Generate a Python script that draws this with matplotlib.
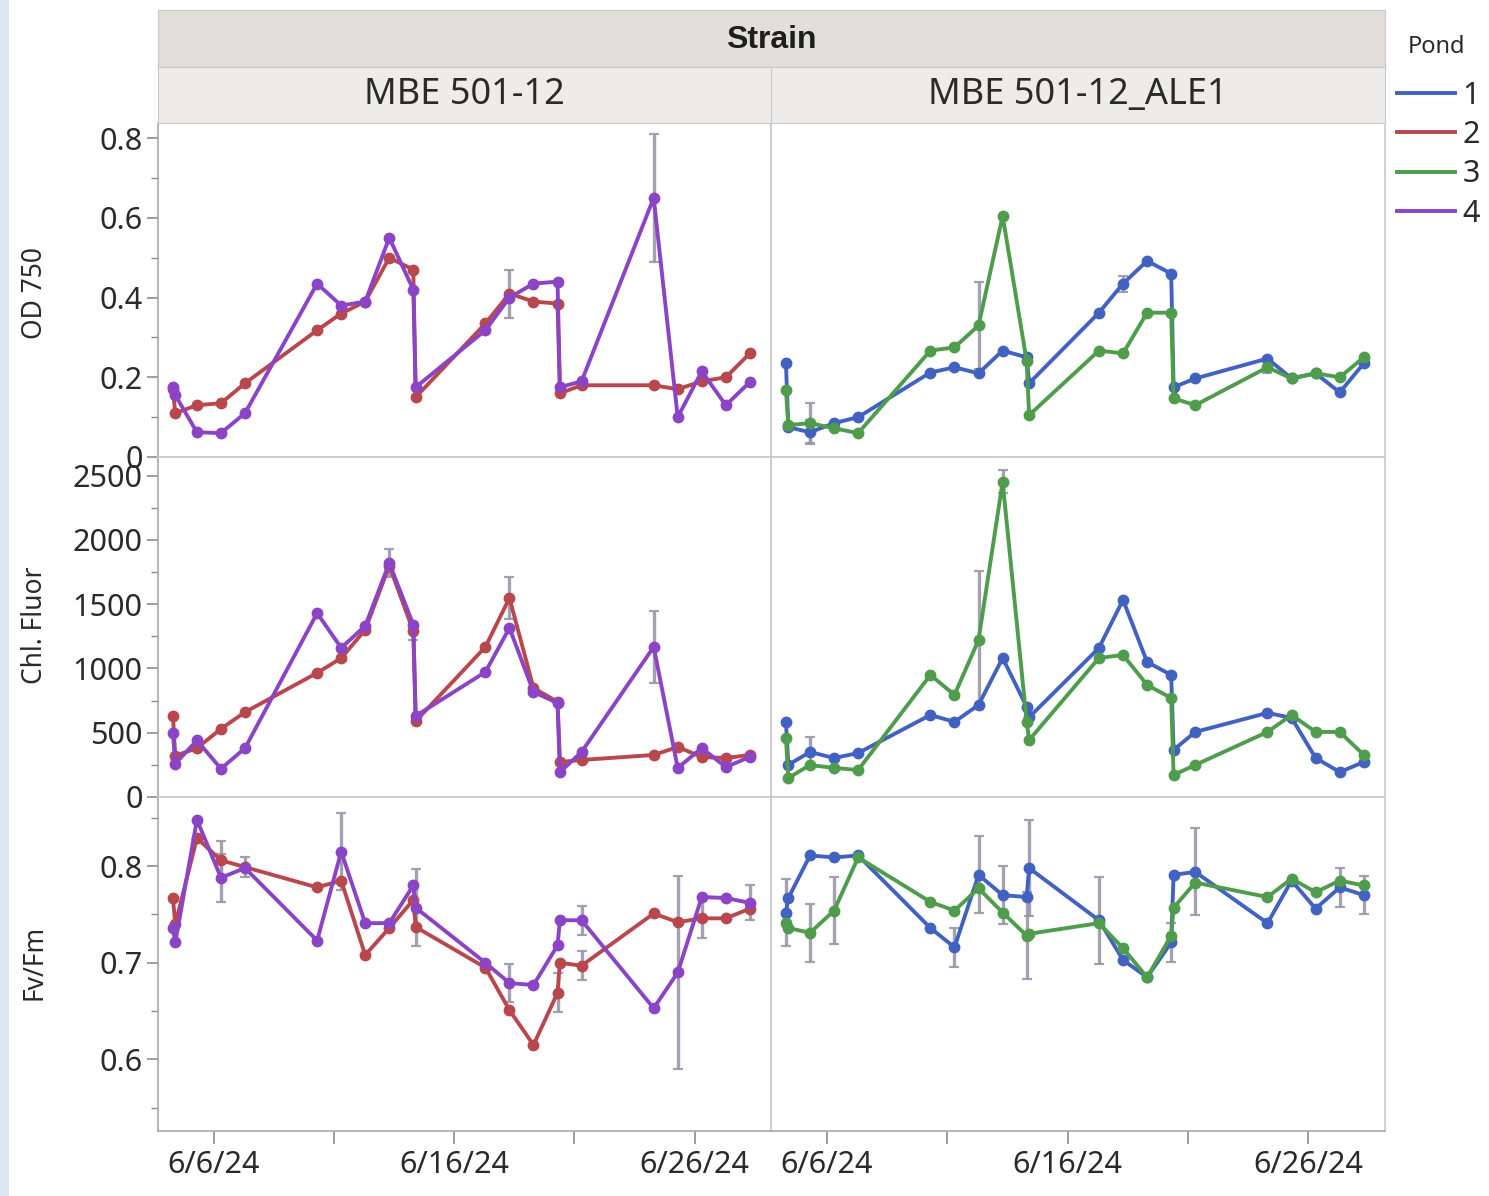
import matplotlib
matplotlib.use("Agg")
import matplotlib.pyplot as plt
from matplotlib.lines import Line2D
from matplotlib.patches import Rectangle
from matplotlib.ticker import FixedLocator, MultipleLocator, FuncFormatter
import numpy as np

plt.rcParams['font.family'] = ['Noto Sans', 'DejaVu Sans']

# ---------------- data ----------------
strains = ["MBE 501-12", "MBE 501-12_ALE1"]
ponds = ["1", "2", "3", "4"]
measures = ["OD 750", "Chl. Fluor", "Fv/Fm"]

# sampling time, day of June 2024 (two samples on 6/4, 6/14, 6/20)
sample_day = [4.3, 4.4, 5.3, 6.3, 7.3, 10.3, 11.3, 12.3, 13.3, 14.3, 14.4,
              17.3, 18.3, 19.3, 20.3, 20.4, 21.3, 24.3, 25.3, 26.3, 27.3, 28.3]

# OD 750
od_p2 = [0.17, 0.11, 0.13, 0.135, 0.185, 0.318, 0.36, 0.39, 0.50, 0.47, 0.15,
         0.335, 0.41, 0.39, 0.385, 0.16, 0.18, 0.18, 0.17, 0.19, 0.20, 0.26]
od_p4 = [0.175, 0.155, 0.062, 0.06, 0.11, 0.435, 0.38, 0.39, 0.55, 0.42, 0.175,
         0.318, 0.40, 0.435, 0.44, 0.175, 0.19, 0.65, 0.10, 0.215, 0.13, 0.188]
od_p1 = [0.235, 0.075, 0.062, 0.085, 0.10, 0.212, 0.225, 0.21, 0.267, 0.25, 0.185,
         0.362, 0.435, 0.492, 0.46, 0.175, 0.197, 0.247, 0.197, 0.21, 0.162, 0.235]
od_p3 = [0.168, 0.08, 0.085, 0.072, 0.06, 0.267, 0.275, 0.33, 0.605, 0.24, 0.105,
         0.267, 0.26, 0.362, 0.362, 0.147, 0.13, 0.225, 0.197, 0.21, 0.20, 0.25]
od_p2_err = [0, 0, 0, 0, 0, 0, 0, 0, 0, 0, 0, 0, 0.06, 0, 0, 0, 0, 0, 0, 0, 0, 0]
od_p4_err = [0, 0, 0, 0, 0, 0, 0, 0, 0, 0, 0, 0, 0, 0, 0, 0, 0, 0.16, 0, 0, 0, 0]
od_p1_err = [0, 0, 0.03, 0, 0, 0, 0, 0, 0, 0, 0, 0, 0.02, 0, 0, 0, 0, 0, 0, 0, 0, 0]
od_p3_err = [0, 0, 0.05, 0, 0, 0, 0, 0.11, 0, 0, 0, 0, 0, 0, 0, 0, 0, 0.015, 0, 0, 0, 0]

# Chl. Fluor
chl_p2 = [630, 320, 380, 530, 660, 965, 1080, 1300, 1800, 1290, 590,
          1167, 1548, 848, 740, 272, 288, 327, 389, 311, 303, 327]
chl_p4 = [500, 260, 440, 220, 380, 1430, 1160, 1330, 1820, 1340, 630,
          972, 1315, 817, 731, 194, 350, 1167, 226, 381, 233, 311]
chl_p1 = [584, 250, 350, 303, 342, 638, 584, 716, 1081, 700, 620,
          1159, 1533, 1050, 949, 366, 506, 654, 615, 303, 194, 272]
chl_p3 = [459, 148, 249, 226, 210, 949, 794, 1221, 2451, 584, 443,
          1081, 1105, 871, 770, 171, 249, 506, 638, 506, 506, 327]
chl_p2_err = [0, 0, 0, 0, 0, 0, 0, 0, 0, 70, 0, 0, 160, 0, 0, 0, 0, 0, 0, 0, 0, 0]
chl_p4_err = [0, 0, 0, 0, 0, 0, 0, 0, 110, 0, 0, 0, 0, 0, 0, 0, 0, 280, 0, 0, 0, 0]
chl_p1_err = [0, 0, 120, 0, 0, 0, 0, 0, 0, 0, 0, 0, 0, 0, 0, 0, 0, 0, 0, 0, 0, 0]
chl_p3_err = [0, 0, 0, 0, 0, 0, 0, 540, 90, 0, 0, 0, 0, 0, 0, 0, 0, 0, 0, 0, 0, 0]

# Fv/Fm
fv_p2 = [0.767, 0.74, 0.829, 0.806, 0.799, 0.778, 0.785, 0.708, 0.736, 0.765, 0.737,
         0.695, 0.651, 0.615, 0.669, 0.70, 0.697, 0.751, 0.742, 0.746, 0.746, 0.756]
fv_p4 = [0.736, 0.721, 0.848, 0.788, 0.798, 0.723, 0.815, 0.741, 0.741, 0.78, 0.757,
         0.70, 0.679, 0.677, 0.718, 0.744, 0.744, 0.653, 0.690, 0.768, 0.767, 0.762]
fv_p1 = [0.752, 0.767, 0.811, 0.809, 0.811, 0.736, 0.716, 0.791, 0.770, 0.768, 0.798,
         0.744, 0.703, 0.685, 0.721, 0.791, 0.794, 0.741, 0.785, 0.756, 0.778, 0.770]
fv_p3 = [0.741, 0.736, 0.731, 0.754, 0.809, 0.763, 0.754, 0.777, 0.752, 0.728, 0.73,
         0.741, 0.715, 0.685, 0.728, 0.757, 0.783, 0.768, 0.787, 0.773, 0.785, 0.780]
fv_p2_err = [0, 0, 0, 0.02, 0.01, 0, 0, 0, 0, 0, 0, 0, 0, 0, 0.02, 0, 0.015, 0, 0, 0.02, 0, 0]
fv_p4_err = [0, 0, 0, 0.025, 0, 0, 0.04, 0, 0, 0, 0.04, 0, 0.02, 0, 0, 0, 0.015, 0, 0.1, 0, 0, 0.018]
fv_p1_err = [0.035, 0, 0, 0, 0, 0, 0.02, 0.04, 0.03, 0, 0.05, 0.045, 0, 0, 0.02, 0, 0.045, 0, 0, 0, 0.02, 0.02]
fv_p3_err = [0, 0, 0.03, 0.035, 0, 0, 0, 0, 0, 0.045, 0, 0, 0, 0, 0, 0, 0, 0, 0, 0, 0, 0]

# which ponds belong to each strain
strain_ponds = {"MBE 501-12": ["2", "4"], "MBE 501-12_ALE1": ["1", "3"]}
series = {
    "OD 750": {"1": (od_p1, od_p1_err), "2": (od_p2, od_p2_err),
               "3": (od_p3, od_p3_err), "4": (od_p4, od_p4_err)},
    "Chl. Fluor": {"1": (chl_p1, chl_p1_err), "2": (chl_p2, chl_p2_err),
                   "3": (chl_p3, chl_p3_err), "4": (chl_p4, chl_p4_err)},
    "Fv/Fm": {"1": (fv_p1, fv_p1_err), "2": (fv_p2, fv_p2_err),
              "3": (fv_p3, fv_p3_err), "4": (fv_p4, fv_p4_err)},
}

x_major_days = [1, 6, 11, 16, 21, 26]
x_label_days = [6, 16, 26]

# ---------------- style ----------------
colors = {"1": "#4262C2", "2": "#B9484E", "3": "#4E9C4C", "4": "#8B44C6"}
txt_c = "#2A2A2A"
W, H = 1489, 1196
fig = plt.figure(figsize=(W / 100, H / 100), dpi=100)
fig.patch.set_facecolor("white")


def box(x0, y0, x1, y1):
    return [x0 / W, 1 - y1 / H, (x1 - x0) / W, (y1 - y0) / H]


# light blue strip at the left edge
fig.patches.append(Rectangle((0, 0), 9 / W, 1, transform=fig.transFigure,
                             facecolor="#DCE6F2", edgecolor="none", zorder=0))

col_x = [(158, 771), (771, 1385)]
row_y = [(123, 457), (457, 797), (797, 1131)]
ylims = {"OD 750": (0, 0.838), "Chl. Fluor": (0, 2644), "Fv/Fm": (0.526, 0.8715)}
yticks = {"OD 750": ([0, 0.2, 0.4, 0.6, 0.8], 0.1),
          "Chl. Fluor": ([0, 500, 1000, 1500, 2000, 2500], 250),
          "Fv/Fm": ([0.6, 0.7, 0.8], 0.05)}
yfmt = {"OD 750": lambda v, p: "0" if v == 0 else f"{v:.1f}",
        "Chl. Fluor": lambda v, p: f"{v:.0f}",
        "Fv/Fm": lambda v, p: f"{v:.1f}"}
ylabel_y = {"OD 750": 293, "Chl. Fluor": 625, "Fv/Fm": 962}

spine_c = "#C9C9C9"
for r, meas in enumerate(measures):
    for c, strain in enumerate(strains):
        x0, x1 = col_x[c]
        y0, y1 = row_y[r]
        ax = fig.add_axes(box(x0, y0, x1, y1))
        ax.set_facecolor("white")
        for p in strain_ponds[strain]:
            vals, err = series[meas][p]
            vals = np.array(vals, dtype=float)
            err = np.array(err, dtype=float)
            m = err > 0
            ax.errorbar(np.array(sample_day)[m], vals[m], yerr=err[m], fmt="none",
                        ecolor="#9A98A8", elinewidth=2.4, capsize=3.5, capthick=1.6,
                        alpha=0.9, zorder=2)
            ax.plot(sample_day, vals, color=colors[p], lw=2.8, marker="o",
                    ms=7.5, mec=colors[p], mfc=colors[p], zorder=3)
        ax.set_xlim(3.68, 29.18)
        ax.set_ylim(*ylims[meas])
        for s in ax.spines.values():
            s.set_color(spine_c)
            s.set_linewidth(1.2)
        ax.xaxis.set_major_locator(FixedLocator(x_major_days))
        ax.xaxis.set_major_formatter(FuncFormatter(
            lambda v, p: f"6/{int(round(v))}/24" if int(round(v)) in x_label_days else ""))
        major, minor = yticks[meas]
        ax.yaxis.set_major_locator(FixedLocator(major))
        ax.yaxis.set_minor_locator(MultipleLocator(minor))
        ax.yaxis.set_major_formatter(FuncFormatter(yfmt[meas]))
        ax.tick_params(axis="y", which="major", length=8, width=1.2, color="#8C8C8C",
                       labelsize=22, labelcolor=txt_c, pad=3)
        ax.tick_params(axis="y", which="minor", length=5, width=1.0, color="#8C8C8C")
        ax.tick_params(axis="x", which="major", length=9, width=1.2, color="#8C8C8C",
                       labelsize=22, labelcolor=txt_c, pad=5)
        if c == 1:
            ax.tick_params(axis="y", which="both", left=False, labelleft=False)
        else:
            ax.spines["left"].set_color("#A8A8A8")
        if r < 2:
            ax.tick_params(axis="x", which="both", bottom=False, labelbottom=False)
        else:
            ax.spines["bottom"].set_color("#A8A8A8")
        if c == 0:
            fig.text(35 / W, 1 - ylabel_y[meas] / H, meas, rotation=90, ha="center",
                     va="center", fontsize=19, color=txt_c)

# header bands
hb = fig.add_axes(box(158, 10, 1385, 67))
hb.set_facecolor("#E1DFD8")
hb.set_xticks([]); hb.set_yticks([])
for s in hb.spines.values():
    s.set_color(spine_c)
hb.text(0.5, 0.47, "Strain", ha="center", va="center", fontsize=23,
        fontweight="bold", family=["Liberation Sans", "DejaVu Sans"],
        color="#1E1E1E", transform=hb.transAxes)
for c, strain in enumerate(strains):
    x0, x1 = col_x[c]
    cb = fig.add_axes(box(x0, 67, x1, 123))
    cb.set_facecolor("#EDECEA")
    cb.set_xticks([]); cb.set_yticks([])
    for s in cb.spines.values():
        s.set_color(spine_c)
    cb.text(0.5, 0.5, strain, ha="center", va="center", fontsize=26,
            color=txt_c, transform=cb.transAxes)

# legend
fig.text(1437 / W, 1 - 47 / H, "Pond", ha="center", va="center", fontsize=17,
         color=txt_c)
handles = [Line2D([0], [0], color=colors[p], lw=2.8) for p in ponds]
leg = fig.legend(handles, ponds, loc="upper left",
                 bbox_to_anchor=(1397 / W, 1 - 81 / H), frameon=False,
                 fontsize=22, handlelength=1.9, handletextpad=0.25,
                 labelspacing=0.3, borderaxespad=0, borderpad=0)
for t in leg.get_texts():
    t.set_color(txt_c)

fig.savefig("out.png", dpi=100, facecolor="white")
